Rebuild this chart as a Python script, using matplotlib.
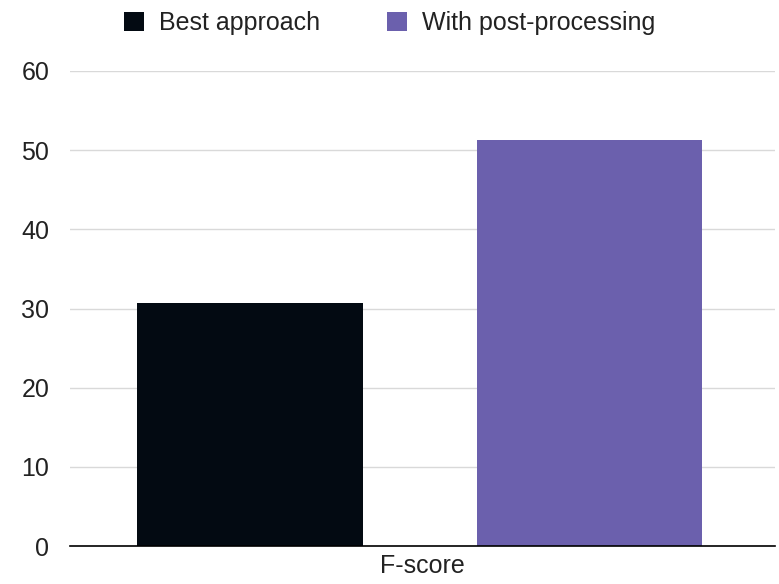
import matplotlib.pyplot as plt
import numpy as np

plt.rcParams['font.family'] = ['Liberation Sans', 'DejaVu Sans']

# data
categories = ["F-score"]
series_names = ["Best approach", "With post-processing"]
best_approach = [30.7]
post_processing = [51.3]
colors = ["#030a12", "#6b60ad"]

fig = plt.figure(figsize=(7.79, 5.84), dpi=100)
ax = fig.add_axes([70 / 779, 1 - 546 / 584, 705 / 779, 475 / 584])

x = np.arange(len(categories))
width = 0.32
b1 = ax.bar(x - 0.245, best_approach, width, color=colors[0], label=series_names[0], zorder=3)
b2 = ax.bar(x + 0.237, post_processing, width, color=colors[1], label=series_names[1], zorder=3)

ax.set_xlim(-0.5, 0.5)
ax.set_ylim(0, 60)
ax.set_yticks(range(0, 61, 10))
ax.set_xticks(x)
ax.set_xticklabels(categories)
ax.yaxis.grid(True, color="#d9d9d9", linewidth=1, zorder=0)
for s in ["top", "right", "left"]:
    ax.spines[s].set_visible(False)
ax.spines["bottom"].set_color("black")
ax.spines["bottom"].set_linewidth(1.2)
ax.spines["bottom"].set_zorder(4)
ax.tick_params(axis="both", length=0, labelsize=18, colors="#222222")
ax.tick_params(axis="y", pad=15)
ax.tick_params(axis="x", pad=6)

fig.legend(handles=[b1, b2], loc="center", bbox_to_anchor=(0.5, 1 - 23 / 584),
           ncol=2, frameon=False, fontsize=18, handlelength=0.8, handleheight=0.8,
           columnspacing=2.7, handletextpad=0.6, labelcolor="#222222")

fig.savefig("out.png", dpi=100)
